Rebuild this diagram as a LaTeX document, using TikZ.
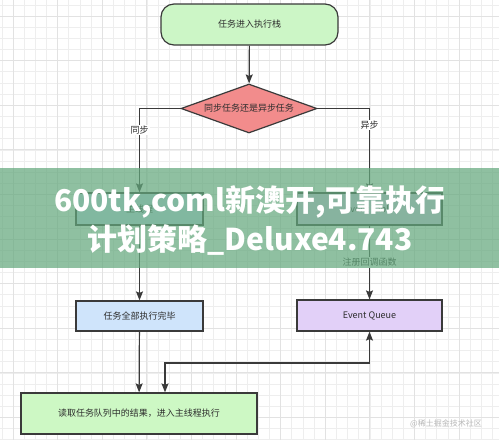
\documentclass[tikz,border=0pt]{standalone}
\usepackage{fontspec}
\setmainfont{Noto Sans CJK SC}
\usetikzlibrary{shapes.geometric,arrows.meta}
\definecolor{lineC}{RGB}{58,58,58}
\definecolor{txtC}{RGB}{45,45,45}
\definecolor{topG}{RGB}{204,246,198}
\definecolor{decR}{RGB}{242,140,140}
\definecolor{boxB}{RGB}{207,228,251}
\definecolor{boxP}{RGB}{226,208,248}
\definecolor{botG}{RGB}{205,248,196}
\definecolor{gridMinor}{RGB}{238,238,238}
\definecolor{gridMajor}{RGB}{226,226,226}
\definecolor{bannerG}{RGB}{100,168,125}
\tikzset{
  base/.style={draw=lineC, line width=1.2pt, text=txtC, font=\fontsize{9}{10}\selectfont, inner sep=0pt},
  conn/.style={draw=lineC, line width=1.2pt, -{Stealth[length=9pt,width=7pt,inset=1.5pt]}},
  dconn/.style={draw=lineC, line width=1.2pt, {Stealth[length=9pt,width=7pt,inset=1.5pt]}-{Stealth[length=9pt,width=7pt,inset=1.5pt]}},
  lbl/.style={fill=white, text=txtC, font=\fontsize{9}{10}\selectfont, inner sep=1pt},
}
\begin{document}
\begin{tikzpicture}[x=1pt,y=-1pt]
\useasboundingbox (0,0) rectangle (499,440);
\fill[white] (0,0) rectangle (499,440);
% grid
\foreach \i in {0,...,44} {
  \pgfmathsetmacro{\xx}{1.85+11.15*\i}
  \pgfmathsetmacro{\yy}{4.85+11.15*\i}
  \draw[gridMinor, line width=0.6pt] (\xx,0) -- (\xx,440);
  \draw[gridMinor, line width=0.6pt] (0,\yy) -- (499,\yy);
}
\foreach \i in {0,...,11} {
  \pgfmathsetmacro{\xx}{13+44.6*\i}
  \pgfmathsetmacro{\yy}{16+44.6*\i}
  \draw[gridMajor, line width=0.8pt] (\xx,0) -- (\xx,440);
  \draw[gridMajor, line width=0.8pt] (0,\yy) -- (499,\yy);
}
% nodes
\node[base, fill=topG, rounded corners=13pt, minimum width=177pt, minimum height=41pt] (start) at (249.5,24.5) {任务进入执行栈};
\node[base, fill=decR, diamond, aspect=2.78, minimum width=136pt, minimum height=49pt] (dec) at (249,108.5) {同步任务还是异步任务};
\node[base, fill=boxB, minimum width=127pt, minimum height=32pt] (main) at (139.5,209) {主线程};
\node[base, fill=boxP, minimum width=145pt, minimum height=32pt] (table) at (369.5,209) {Event Table};
\node[base, fill=boxB, minimum width=127pt, minimum height=30pt] (done) at (139.5,316) {任务全部执行完毕};
\node[base, fill=boxP, minimum width=145pt, minimum height=31pt] (queue) at (369.5,315.5) {Event Queue};
\node[base, fill=botG, minimum width=236pt, minimum height=41pt] (read) at (139,413.5) {读取任务队列中的结果，进入主线程执行};
\coordinate (turn) at (165,363);
% connectors
\draw[conn] (start) -- (dec);
\draw[conn] (dec.west) -| node[lbl, pos=0.63] {同步} (main.north);
\draw[conn] (dec.east) -| node[lbl, pos=0.6] {异步} (table.north);
\draw[conn] (main) -- (done);
\draw[conn] (table) -- node[lbl] {注册回调函数} (queue);
\draw[conn] (done) -- (read);
\draw[dconn] (queue.south) |- (turn) -- (turn |- read.north);
% watermark
\node[text=gray!55, font=\fontsize{8}{9}\selectfont, inner sep=0pt] (wm) at (446,424) {@稀土掘金技术社区};
% banner
\fill[bannerG, opacity=0.72] (0,168) rectangle (499,268);
\node[text=white, font=\fontsize{30}{39}\selectfont\bfseries, inner sep=0pt, align=center] (banner) at (250,221) {600tk,coml新澳开,可靠执行\\计划策略\_Deluxe4.743};
\end{tikzpicture}
\end{document}
